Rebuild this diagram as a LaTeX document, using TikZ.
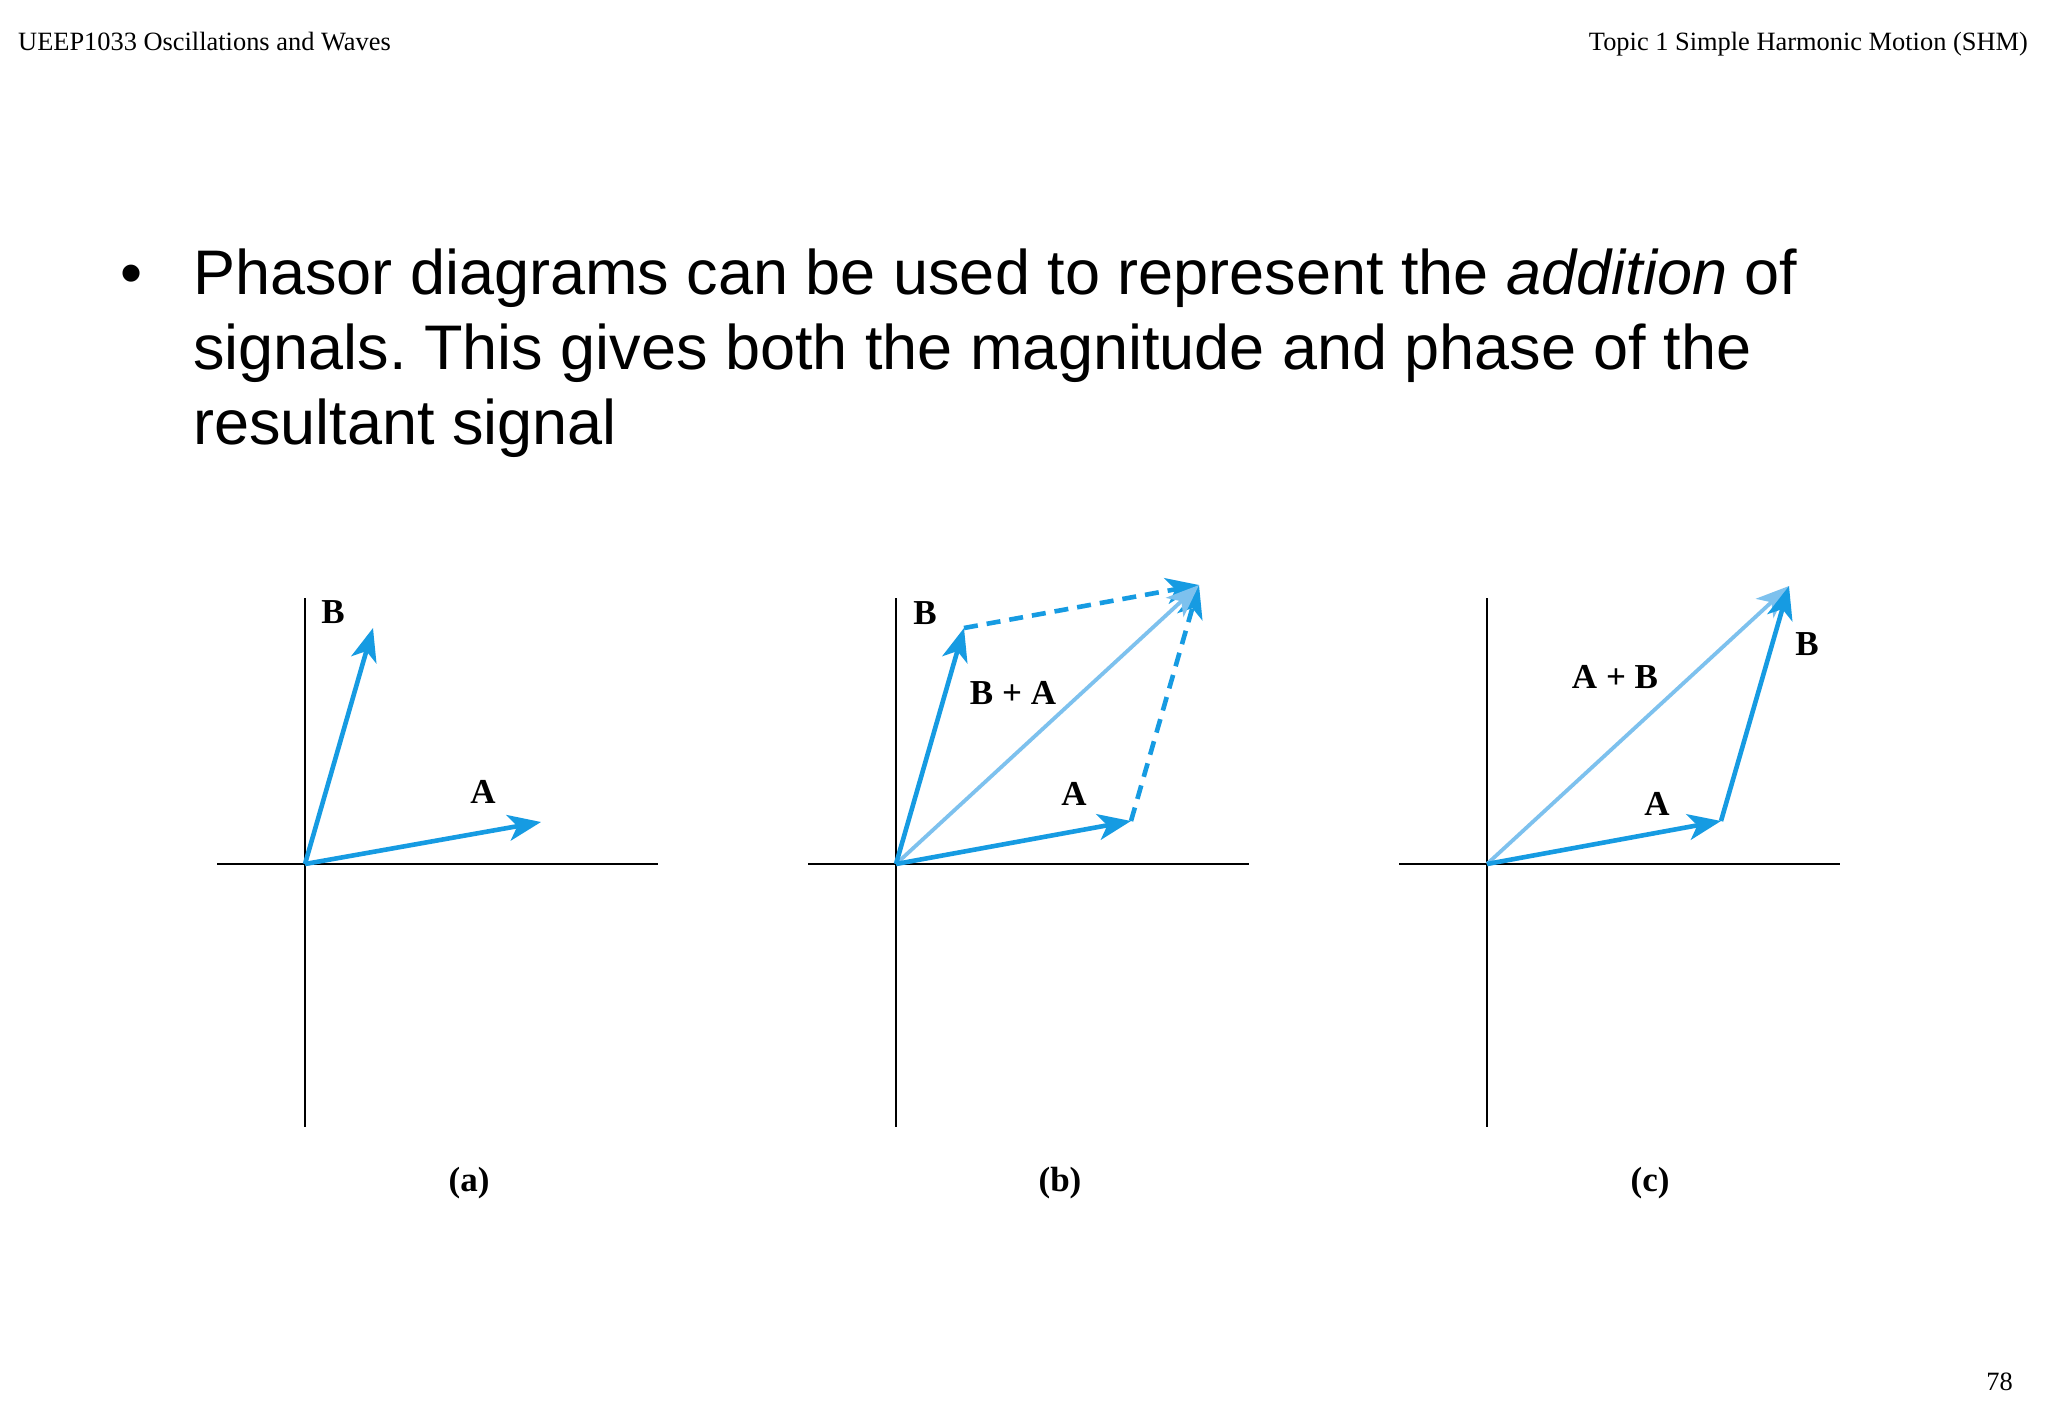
\documentclass[tikz,border=0pt]{standalone}
\usepackage{fontspec}
\setmainfont{Liberation Serif}
\newfontfamily\arialfont{Liberation Sans}
\usetikzlibrary{arrows.meta}
\definecolor{phblue}{RGB}{22,155,226}
\definecolor{phlight}{RGB}{125,193,238}
\frenchspacing
\begin{document}
\begin{tikzpicture}[x=1pt,y=-1pt,
  axis/.style={line width=2.3pt,black},
  vec/.style={line width=4.6pt,phblue,-{Stealth[length=33pt,width=26pt,inset=9pt]}},
  sumvec/.style={line width=3.8pt,phlight,-{Stealth[length=33pt,width=26pt,inset=9pt]}},
  dashvec/.style={vec,dash pattern=on 14pt off 9pt},
  lbl/.style={inner sep=0pt,font=\fontsize{35}{35}\selectfont\bfseries},
  figcap/.style={inner sep=0pt,anchor=base,font=\fontsize{35}{35}\selectfont\bfseries},
  head/.style={inner sep=0pt,font=\fontsize{26.4}{26.4}\selectfont},
  body/.style={inner sep=0pt,anchor=base west,font=\arialfont\fontsize{63}{75}\selectfont}]
\useasboundingbox[fill=white] (0,0) rectangle (2048,1418);

% headers
\node[head,anchor=base west] (hl) at (18,51) {UEEP1033 Oscillations and Waves};
\node[head,anchor=base east] (hr) at (2028,51) {Topic 1 Simple Harmonic Motion (SHM)};
\node[head,anchor=base east] (pg) at (2013,1390) {78};

% bullet text
\node[body] (bul) at (120,294) {•};
\node[body] (l1) at (193,294) {Phasor diagrams can be used to represent the \textit{addition} of};
\node[body] (l2) at (193,369) {signals. This gives both the magnitude and phase of the};
\node[body] (l3) at (193,444) {resultant signal};

% ---------- (a) ----------
\coordinate (Oa) at (305,864);
\coordinate (HLa) at (217,864);
\coordinate (HRa) at (658,864);
\coordinate (VTa) at (305,598);
\coordinate (VBa) at (305,1127);
\coordinate (Aa) at (541,822);
\coordinate (Ba) at (373,628);
\draw[axis] (HLa) -- (HRa);
\draw[axis] (VTa) -- (VBa);
\draw[vec] (Oa) -- (Aa);
\draw[vec] (Oa) -- (Ba);
\node[lbl] (labBa) at (333,612) {B};
\node[lbl] (labAa) at (483,792) {A};
\node[figcap] (capa) at (469,1191) {(a)};

% ---------- (b) ----------
\coordinate (Ob) at (896,864);
\coordinate (HLb) at (808,864);
\coordinate (HRb) at (1249,864);
\coordinate (VTb) at (896,598);
\coordinate (VBb) at (896,1127);
\coordinate (Ab) at (1131,821);
\coordinate (Bb) at (964,628);
\coordinate (Sb) at (1199,585);
\draw[axis] (HLb) -- (HRb);
\draw[axis] (VTb) -- (VBb);
\draw[dashvec] (Bb) -- (Sb);
\draw[dashvec] (Ab) -- (Sb);
\draw[sumvec] (Ob) -- (Sb);
\draw[vec] (Ob) -- (Ab);
\draw[vec] (Ob) -- (Bb);
\node[lbl] (labBb) at (925,613) {B};
\node[lbl] (labAb) at (1074,794) {A};
\node[lbl] (labSb) at (1013,693) {B + A};
\node[figcap] (capb) at (1060,1191) {(b)};

% ---------- (c) ----------
\coordinate (Oc) at (1487,864);
\coordinate (HLc) at (1399,864);
\coordinate (HRc) at (1840,864);
\coordinate (VTc) at (1487,598);
\coordinate (VBc) at (1487,1127);
\coordinate (Ac) at (1721,821);
\coordinate (Sc) at (1789,586);
\draw[axis] (HLc) -- (HRc);
\draw[axis] (VTc) -- (VBc);
\draw[sumvec] (Oc) -- (Sc);
\draw[vec] (Oc) -- (Ac);
\draw[vec] (Ac) -- (Sc);
\node[lbl] (labAc) at (1657,804) {A};
\node[lbl] (labBc) at (1807,644) {B};
\node[lbl] (labSc) at (1615,677) {A + B};
\node[figcap] (capc) at (1650,1191) {(c)};
\end{tikzpicture}
\end{document}
